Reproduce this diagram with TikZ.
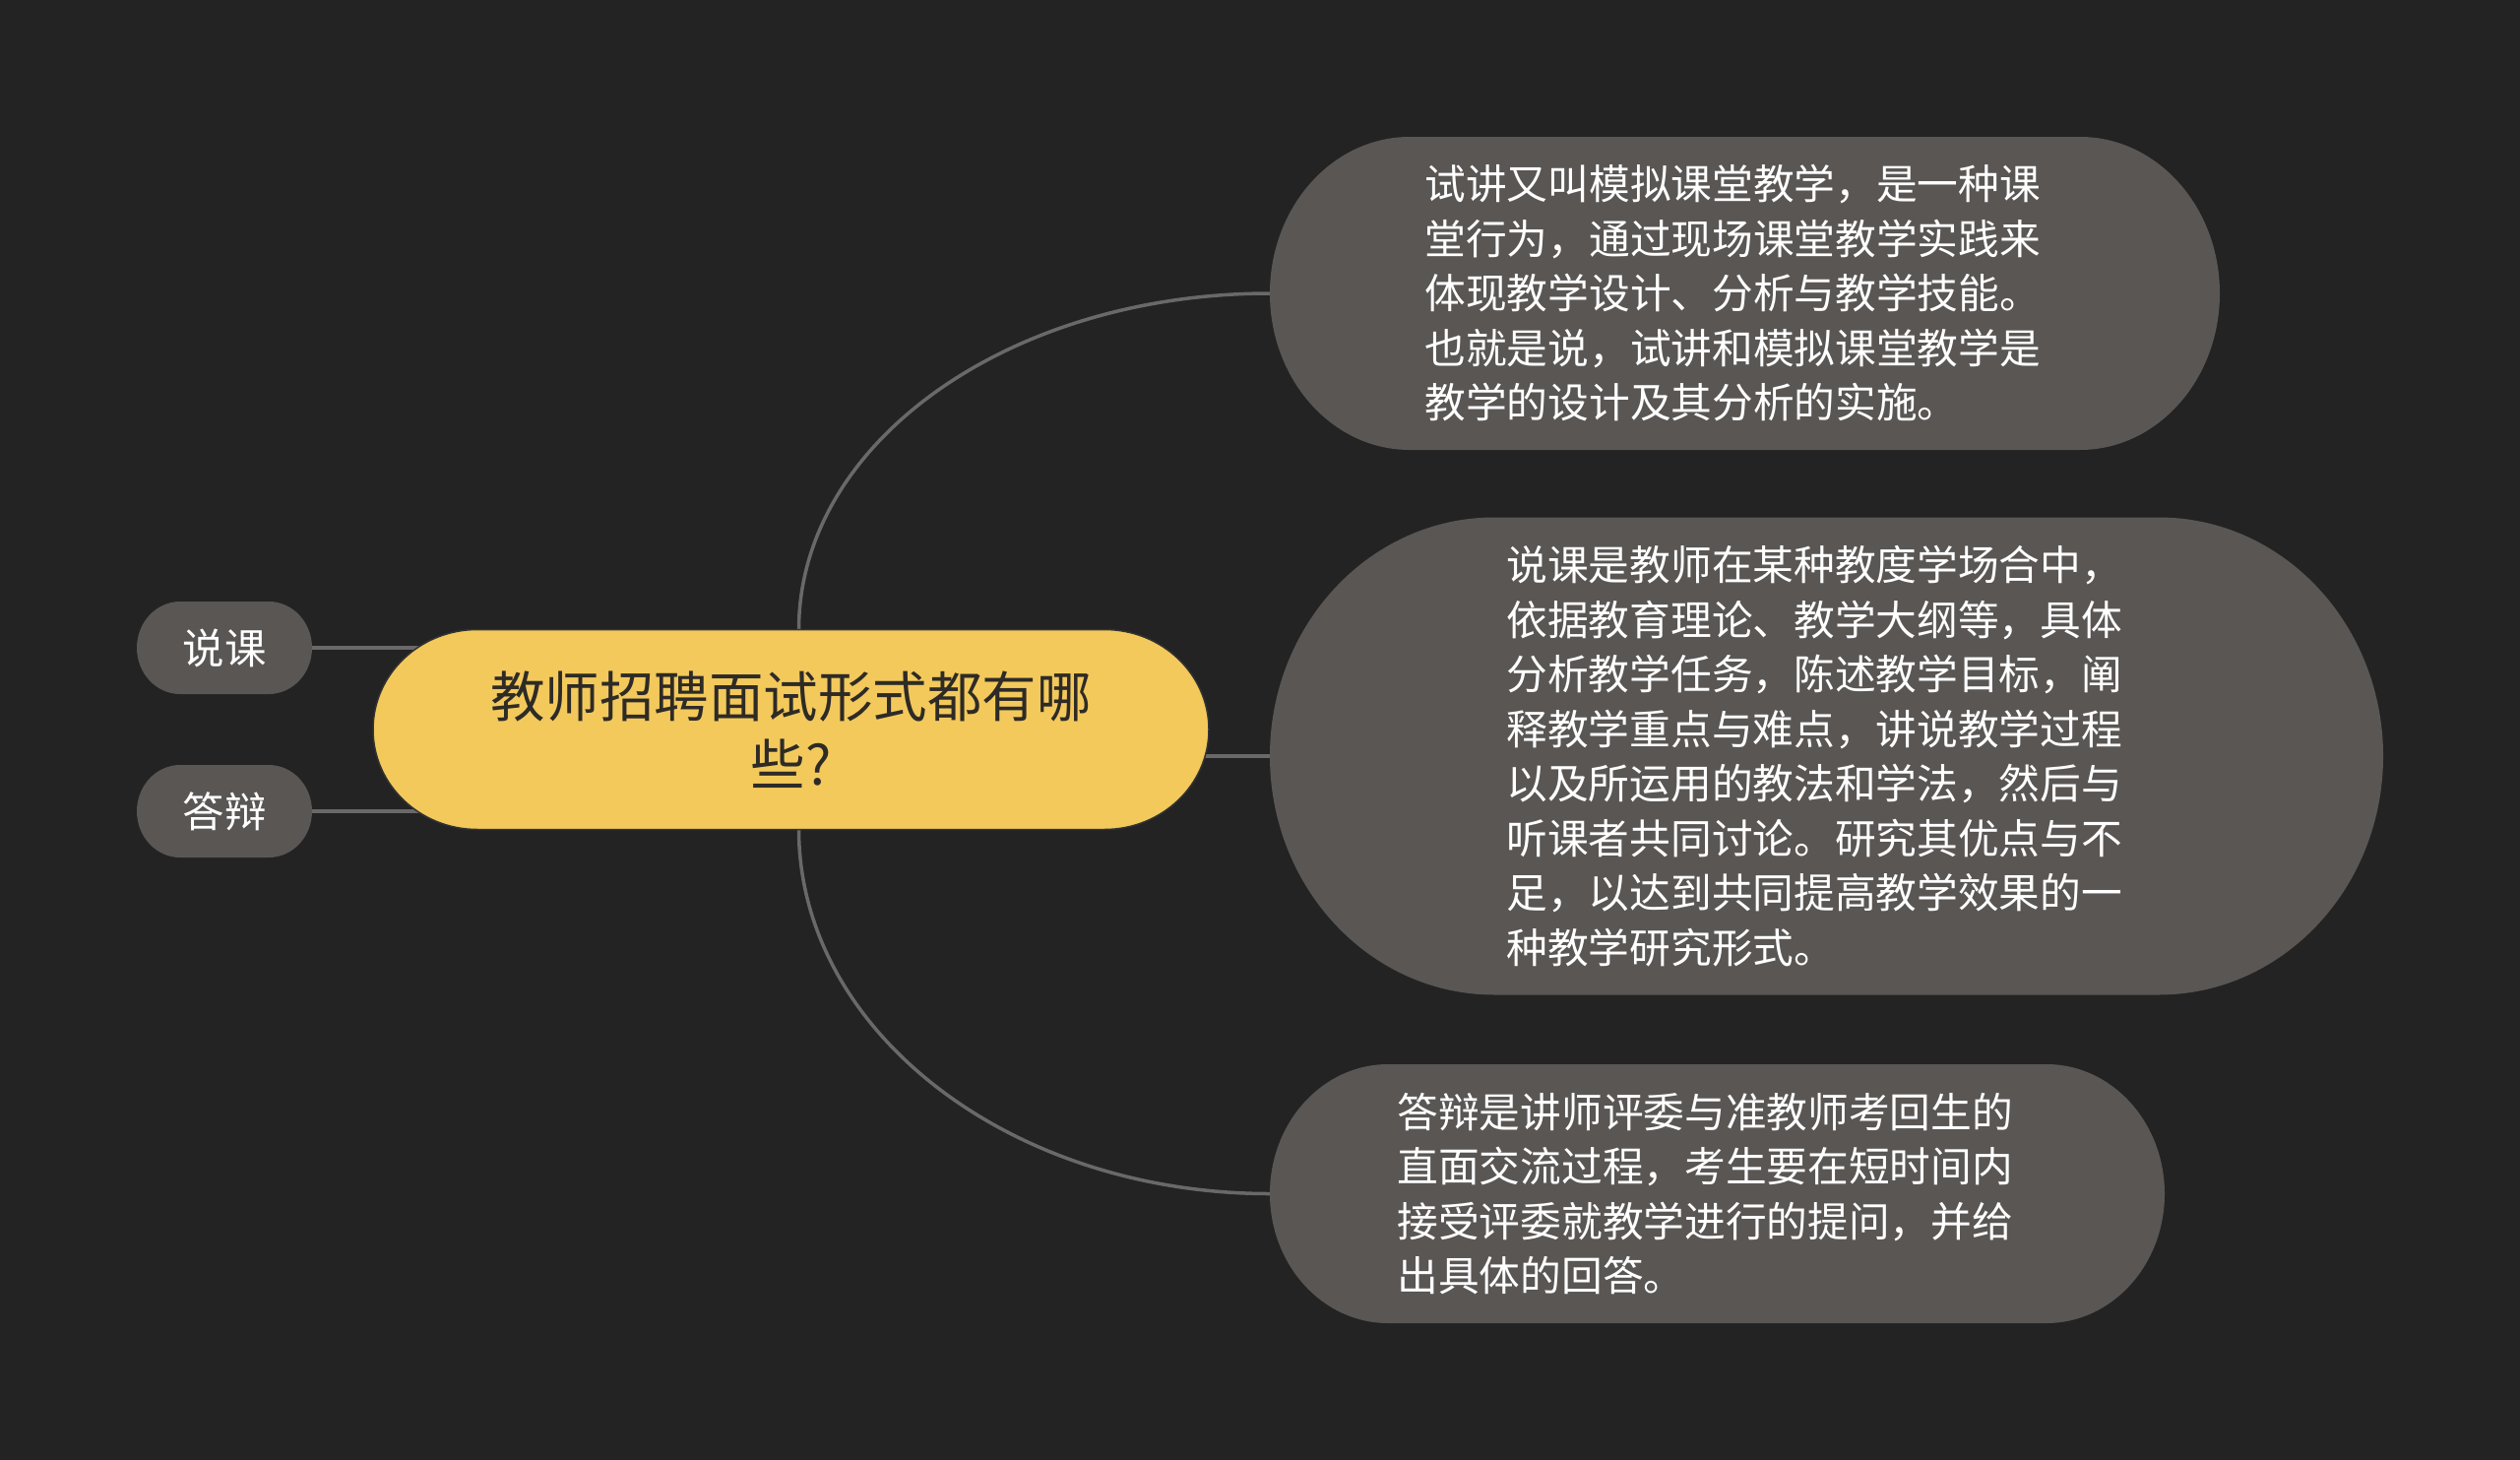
\documentclass[tikz,border=0pt]{standalone}
\usepackage{fontspec}
\setmainfont{Noto Sans CJK SC}
\usetikzlibrary{calc}
\definecolor{bgc}{HTML}{232323}
\definecolor{graynode}{HTML}{595654}
\definecolor{yellownode}{HTML}{F3C95C}
\definecolor{linec}{HTML}{6A6868}
\definecolor{darktext}{HTML}{2E2B26}
\pgfdeclarelayer{bgl}
\pgfdeclarelayer{conn}
\pgfdeclarelayer{shp}
\pgfsetlayers{bgl,conn,shp,main}
\newcommand\pill[4]{%
  \begin{pgfonlayer}{shp}
  \path[#4] ($(#1.north west)+(#2pt,0pt)$) -- ($(#1.north east)+(-#2pt,0pt)$)
    arc[start angle=90,end angle=-90,x radius=#2pt,y radius=#3pt]
    -- ($(#1.south west)+(#2pt,0pt)$)
    arc[start angle=270,end angle=90,x radius=#2pt,y radius=#3pt] -- cycle;
  \end{pgfonlayer}}
\tikzset{
  boxbase/.style={rectangle, inner sep=0pt, outer sep=0pt},
  leafbox/.style={boxbase, text=white, align=left, text width=650pt,
    font=\fontsize{41.7pt}{55.5pt}\selectfont},
  smallbox/.style={boxbase, text=white, align=center,
    font=\fontsize{42.4pt}{50pt}\selectfont},
  rootbox/.style={boxbase, text=darktext, align=center,
    font=\fontsize{55.5pt}{68.6pt}\selectfont},
  conn/.style={draw=linec, line width=3.5pt},
}
\begin{document}
\begin{tikzpicture}[x=1pt,y=-1pt]
\useasboundingbox (0,0) rectangle (2560,1483);
\begin{pgfonlayer}{bgl}
\fill[bgc] (0,0) rectangle (2560,1483);
\end{pgfonlayer}

\node[rootbox, minimum width=849pt, minimum height=203pt] (c) at (803.5,741)
  {教师招聘面试形式都有哪\\些?};
\node[smallbox, minimum width=178pt, minimum height=94pt] (sk) at (228,658) {说课};
\node[smallbox, minimum width=178pt, minimum height=94pt] (db) at (228,824) {答辩};
\node[leafbox, minimum width=965pt, minimum height=318pt] (n1) at (1772.5,298)
  {试讲又叫模拟课堂教学，是一种课\\堂行为，通过现场课堂教学实践来\\体现教学设计、分析与教学技能。\\也就是说，试讲和模拟课堂教学是\\教学的设计及其分析的实施。};
\node[leafbox, minimum width=1131pt, minimum height=485pt] (n2) at (1855.5,768)
  {说课是教师在某种教度学场合中，\\依据教育理论、教学大纲等，具体\\分析教学任务，陈述教学目标，阐\\释教学重点与难点，讲说教学过程\\以及所运用的教法和学法，然后与\\听课者共同讨论。研究其优点与不\\足，以达到共同提高教学效果的一\\种教学研究形式。};
\node[leafbox, minimum width=909pt, minimum height=263pt] (n3) at (1744.5,1212.5)
  {答辩是讲师评委与准教师考回生的\\直面交流过程，考生要在短时间内\\接受评委就教学进行的提问，并给\\出具体的回答。};

\pill{c}{106}{101.5}{fill=yellownode, draw=black!80, line width=1.5pt}
\pill{sk}{44}{47}{fill=graynode}
\pill{db}{44}{47}{fill=graynode}
\pill{n1}{142}{159}{fill=graynode}
\pill{n2}{228}{242.5}{fill=graynode}
\pill{n3}{120}{131.5}{fill=graynode}

\begin{pgfonlayer}{conn}
\draw[conn] (sk.east) -- (sk.east -| c.center);
\draw[conn] (db.east) -- (db.east -| c.center);
\draw[conn] (n2.west -| c.center) -- (n2.west);
\draw[conn] ([xshift=8pt]c.north) .. controls +(0,-190) and +(-265,0) .. (n1.west);
\draw[conn] ([xshift=8pt]c.south) .. controls +(0,204) and +(-265,0) .. (n3.west);
\end{pgfonlayer}
\end{tikzpicture}
\end{document}
